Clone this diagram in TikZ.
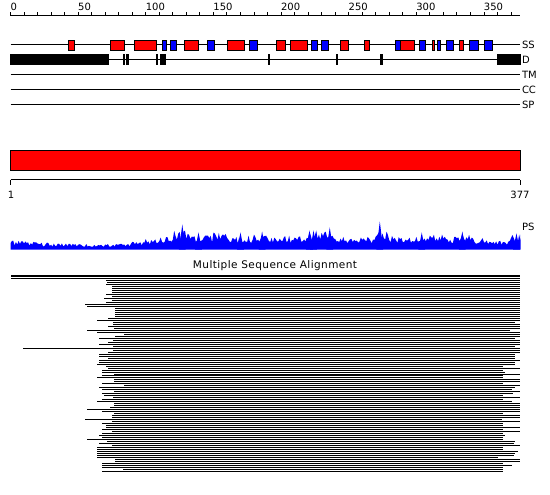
\documentclass[tikz,border=0pt]{standalone}
\usepackage{fontspec}
\setmainfont{DejaVu Sans}
\definecolor{ssred}{RGB}{255,0,0}
\definecolor{ssblue}{RGB}{0,0,255}
\begin{document}
\begin{tikzpicture}[x=1pt,y=-1pt,line width=1pt,
  trk/.style={line width=1pt},
  redbox/.style={fill=ssred,draw=black,line width=0.8pt},
  bluebox/.style={fill=ssblue,draw=black,line width=0.8pt},
  dbox/.style={fill=black},
  lbl/.style={font=\fontsize{10}{12}\selectfont,inner sep=0pt,anchor=west},
  numlbl/.style={font=\fontsize{10}{12}\selectfont,inner sep=0pt},
  msa/.style={line width=1pt}]
\useasboundingbox (0,0) rectangle (550,495);
% ruler
\coordinate (rulL) at (10.5,16);
\coordinate (rulR) at (520,16);
\draw[trk] (rulL) -- (rulR);
\foreach \u in {0,10,...,370} \draw[line width=0.9pt] ({10.5+1.3528*\u},12.5) -- ({10.5+1.3528*\u},16);
\foreach \u in {0,50,...,350} \node[numlbl,anchor=base west] (rl\u) at ({10.5+1.3528*\u-0.5},11) {\u};
% tracks
\foreach \n/\y in {SS/45,D/60,TM/75,CC/90,SP/105}{
  \coordinate (\n L) at (10.5,\y);
  \coordinate (\n R) at (520,\y);
  \draw[trk] (\n L) -- (\n R);
  \node[lbl] (\n lab) at (521.5,\y) {\n};
}
% secondary structure
\foreach \a/\b in {68.3/74,110.7/124.7,134.3/156.3,184.3/198.7,227.3/244.3,276.3/285.3,290.7/307,340.3/348.3,364.3/369.3,400/414.3,432.3/434.3,459/463.7}
  \draw[redbox] (\a,40) rectangle (\b,50.5);
\foreach \a/\b in {162.3/166.3,170.3/176.3,207.3/214,249.3/257.7,311.3/317.7,321/328,395.3/400,419.3/425.7,437.3/440.3,446.3/453.3,469.3/478.3,484.3/492.3}
  \draw[bluebox] (\a,40) rectangle (\b,50.5);
% disorder
\foreach \a/\b in {10/109,123/124.7,126/129.3,156.3/158,160/165.7,268.3/269.7,336.3/338,380.3/382.7,497.3/520.7}
  \fill[dbox] (\a,54.5) rectangle (\b,65.5);
% domain bar
\draw[fill=ssred,draw=black,line width=0.9pt] (10.5,150.5) rectangle (520,170.5);
\coordinate (scL) at (10.5,180);
\coordinate (scR) at (520,180);
\draw[trk] (scL) -- (scR);
\draw[trk] (scL) -- ++(0,5.5);
\draw[trk] (scR) -- ++(0,5.5);
\node[numlbl,anchor=base] (one) at (11,199) {1};
\node[numlbl,anchor=base] (end) at (520,199) {377};
% PS profile
\begin{scope}[xshift=10.5pt,yshift=-249.5pt,x=1.3528pt,y=1pt]
\pgfmathsetseed{12}
\fill[ssblue] (0,0) \foreach \e [count=\k from 0] in {9,8,7,6.5,6,5.5,5,5.5,6,8,10.5,13,19,16,14,17,13,14,17,12,14,15,19,18,13,12,13,19,14,13,13,15,13,18,12,10,10,15}
  { \foreach \j in {0,...,9} { -- ({min(10*\k+\j,377)},{\e*(0.45+0.55*rnd)}) } } -- (377,0) -- cycle;
\foreach \u/\h in {127/25,273/28,236/22,221/19,224/19,186/18,334/18,374/16,170/17,139/17,304/17}
  \fill[ssblue] ({\u-2.5},0) -- (\u,\h) -- ({\u+2.5},0) -- cycle;
\end{scope}
\node[lbl] (pslab) at (521.5,227) {PS};
\node[numlbl,font=\fontsize{10.5}{12}\selectfont\addfontfeature{LetterSpace=4}] (msatitle) at (275,266) {Multiple Sequence Alignment};
% MSA rows
\foreach \s/\e [count=\i from 0] in {11/520,11/520,11/520,106/520,107/520,106/520,112/520,112/520,112/520,112/520,106/520,112/520,104/520,112/520,106/520,85/520,87/520,115/520,115/520,115/520,115/520,115/520,108/520,97/520,113/515,113/520,108/520,114/520,87/510,97/520,124/520,115/520,99/515,113/520,108/520,99/520,113/515,23/520,113/520,108/520,99/515,99/515,108/515,99/520,99/515,97/515,106/503,108/520,102/503,102/505,114/520,102/503,97/503,114/520,114/520,102/503,124/520,99/515,102/512,114/520,102/513,104/503,113/520,102/503,97/512,114/520,114/520,110/520,87/520,102/520,114/503,112/520,112/520,85/502,112/520,102/503,106/503,106/520,102/503,112/520,102/503,99/505,102/503,87/503,107/515,99/514,112/520,97/503,97/503,97/518,97/515,97/514,97/498,115/520,115/520,102/503,102/512,102/503,123/503,102/503}
  \draw[msa] (\s,{275+1.98*\i}) -- (\e,{275+1.98*\i});
\end{tikzpicture}
\end{document}
